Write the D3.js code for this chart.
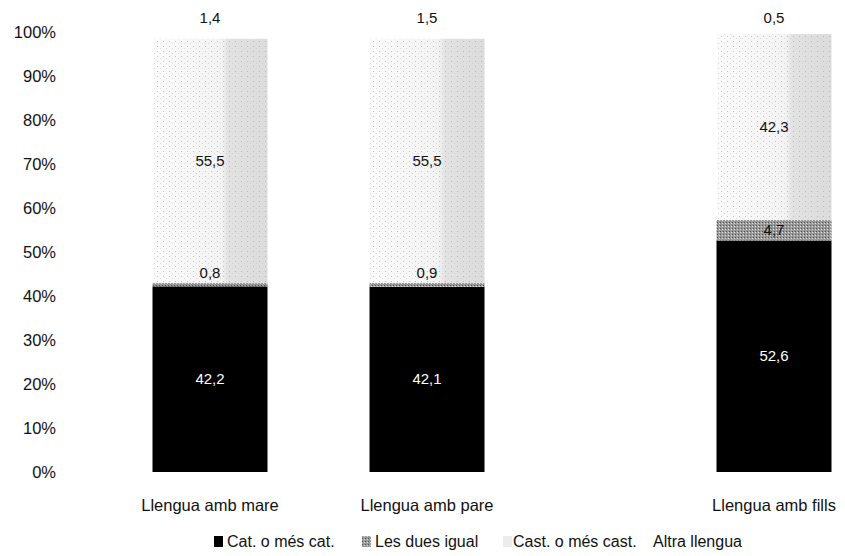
<!DOCTYPE html>
<html>
<head>
<meta charset="UTF-8">
<style>
  body { margin: 0; background: #fff; }
  svg { display: block; font-family: "Liberation Sans", Arial, sans-serif; }
</style>
</head>
<body>
<svg width="845" height="556"></svg>
<script src="https://d3js.org/d3.v7.min.js"></script>
<script>
// data
let categories = ["Llengua amb mare", "Llengua amb pare", "Llengua amb fills"];
let seriesNames = ["Cat. o més cat.", "Les dues igual", "Cast. o més cast.", "Altra llengua"];
let catValues = [42.2, 42.1, 52.6];
let bothValues = [0.8, 0.9, 4.7];
let castValues = [55.5, 55.5, 42.3];
let otherValues = [1.4, 1.5, 0.5];
let yTicks = [0, 10, 20, 30, 40, 50, 60, 70, 80, 90, 100];

let svg = d3.select("svg");
let defs = svg.append("defs");

// light speckled fill, denser towards the right
let grad = defs.append("linearGradient").attr("id", "castGrad");
grad.append("stop").attr("offset", "0%").attr("stop-color", "#fbfbfb");
grad.append("stop").attr("offset", "60%").attr("stop-color", "#f3f3f3");
grad.append("stop").attr("offset", "66%").attr("stop-color", "#e2e2e2");
grad.append("stop").attr("offset", "100%").attr("stop-color", "#dcdcdc");

let dots = defs.append("pattern").attr("id", "dots")
    .attr("patternUnits", "userSpaceOnUse").attr("width", 6).attr("height", 5);
dots.append("rect").attr("x", 1).attr("y", 1).attr("width", 1).attr("height", 1).attr("fill", "#aaa");
dots.append("rect").attr("x", 4).attr("y", 3).attr("width", 1).attr("height", 1).attr("fill", "#ccc");

let grey = defs.append("pattern").attr("id", "greyPat")
    .attr("patternUnits", "userSpaceOnUse").attr("width", 3).attr("height", 3);
grey.append("rect").attr("width", 3).attr("height", 3).attr("fill", "#999");
grey.append("rect").attr("width", 1).attr("height", 1).attr("fill", "#555");
grey.append("rect").attr("x", 2).attr("y", 1).attr("width", 1).attr("height", 1).attr("fill", "#ddd");

let fills = ["#000", "url(#greyPat)", "url(#castGrad)", "#fff"];

let rows = categories.map((c, i) => ({
    cat: c,
    "Cat. o més cat.": catValues[i],
    "Les dues igual": bothValues[i],
    "Cast. o més cast.": castValues[i],
    "Altra llengua": otherValues[i]
}));
let stacked = d3.stack().keys(seriesNames)(rows);

let y = d3.scaleLinear().domain([0, 100]).range([472, 32]);
// bars in the scan are not evenly spaced
let xc = d3.scaleOrdinal().domain(categories).range([210, 427, 774]);
let bw = 115;

let fmt = v => d3.format(".1f")(v).replace(".", ",");

// y axis labels only
let yAxis = d3.axisLeft(y).tickValues(yTicks).tickFormat(d => d + "%").tickSize(0).tickPadding(0);
let ga = svg.append("g").attr("transform", "translate(56,0)").call(yAxis);
ga.select(".domain").remove();
ga.selectAll("text").attr("font-size", 16.5).attr("fill", "#111")
    .attr("font-family", "'Liberation Sans', Arial, sans-serif");

let layers = svg.append("g").selectAll("g").data(stacked).join("g")
    .attr("fill", (d, i) => fills[i]);

layers.selectAll("rect").data(d => d).join("rect")
    .attr("x", d => xc(d.data.cat) - bw / 2)
    .attr("width", bw)
    .attr("y", d => y(d[1]))
    .attr("height", d => y(d[0]) - y(d[1]));

// speckle overlay on the light segment
svg.append("g").selectAll("rect").data(stacked[2]).join("rect")
    .attr("x", d => xc(d.data.cat) - bw / 2)
    .attr("width", bw)
    .attr("y", d => y(d[1]))
    .attr("height", d => y(d[0]) - y(d[1]))
    .attr("fill", "url(#dots)")
    .attr("opacity", 0.7);

// value labels
let lab = svg.append("g").attr("font-size", 15).attr("text-anchor", "middle");
stacked.forEach((s, si) => {
    s.forEach(d => {
        let v = d[1] - d[0];
        let ty;
        if (si === 3) ty = 23;
        else if (v < 2) ty = y(d[1]) - 5;
        else ty = (y(d[0]) + y(d[1])) / 2 + 5;
        lab.append("text")
            .attr("x", xc(d.data.cat))
            .attr("y", ty)
            .attr("fill", si === 0 ? "#fff" : "#111")
            .text(fmt(v));
    });
});

// category labels
svg.append("g").selectAll("text").data(categories).join("text")
    .attr("x", d => xc(d))
    .attr("y", 511)
    .attr("text-anchor", "middle")
    .attr("font-size", 16.5)
    .attr("fill", "#111")
    .text(d => d);

// legend
let legendX = [214, 362, 503, 653];
let lg = svg.append("g").selectAll("g").data(seriesNames).join("g")
    .attr("transform", (d, i) => `translate(${legendX[i]},547)`);
lg.append("rect").attr("x", 0).attr("y", -11).attr("width", 9).attr("height", 11)
    .attr("fill", (d, i) => i === 2 ? "#ececec" : fills[i]);
lg.append("text").attr("x", (d, i) => i === 3 ? 0 : (i === 2 ? 10 : 13)).attr("y", 0)
    .attr("font-size", 16).attr("fill", "#111").text(d => d);
</script>
</body>
</html>
